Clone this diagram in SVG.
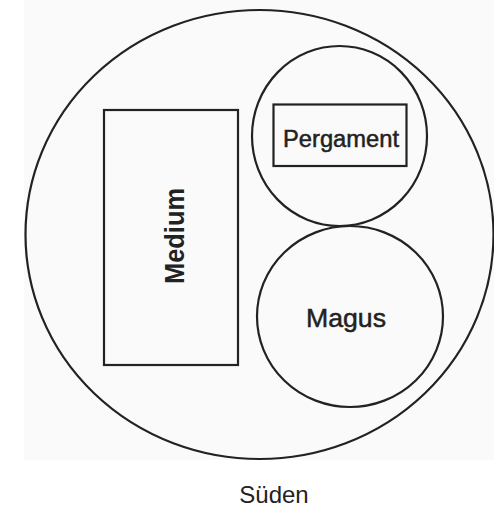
<svg xmlns="http://www.w3.org/2000/svg" width="494" height="509" viewBox="0 0 494 509">
<style>
.s{fill:none;stroke:#222;stroke-width:2.2}
.t{font-family:"Liberation Sans",Arial,sans-serif;fill:#222;text-anchor:middle}
.m{stroke:#222;stroke-width:0.5}
</style>
<rect width="494" height="509" fill="#fff"/>
<rect x="24" y="0" width="470" height="460" fill="#fafafa"/>
<g id="sueden">
<ellipse class="s" cx="259.5" cy="234.5" rx="234" ry="224.5"/>
<text class="t" x="274" y="503" font-size="24">Süden</text>
</g>
<g id="medium">
<rect class="s" x="104" y="110" width="134" height="255"/>
<text class="t" transform="translate(184,236) rotate(-90)" font-size="28" font-weight="bold" textLength="96" lengthAdjust="spacingAndGlyphs">Medium</text>
</g>
<g id="pergament-kreis">
<ellipse class="s" cx="339.5" cy="136" rx="87.5" ry="90"/>
</g>
<g id="pergament">
<rect class="s" x="273.5" y="104.5" width="133" height="61.5"/>
<text class="t m" x="341" y="147" font-size="23" textLength="116" lengthAdjust="spacingAndGlyphs">Pergament</text>
</g>
<g id="magus">
<ellipse class="s" cx="350" cy="316.5" rx="93" ry="90.5"/>
<text class="t m" x="346" y="327" font-size="26" textLength="80" lengthAdjust="spacingAndGlyphs">Magus</text>
</g>
<g id="connectors"/>
</svg>
